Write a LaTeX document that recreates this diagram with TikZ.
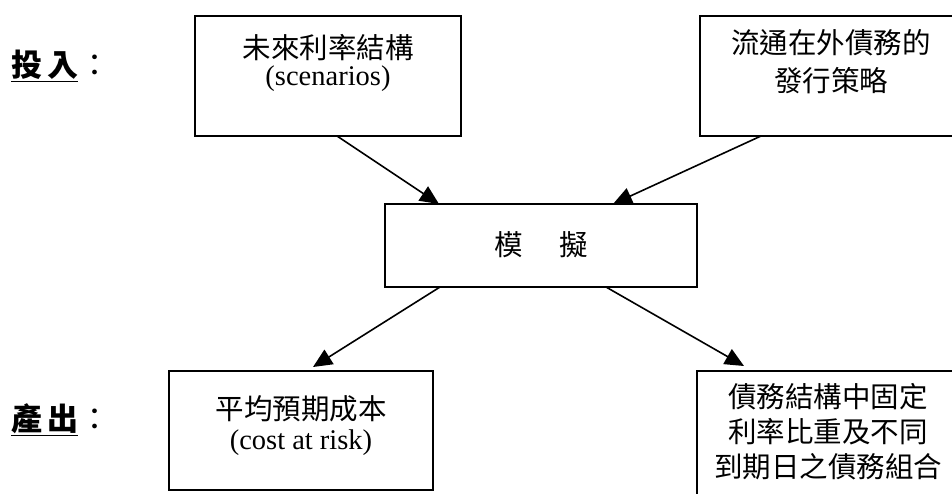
\documentclass[tikz,border=0pt]{standalone}
\usepackage{fontspec}
\setmainfont{Liberation Serif}
\newfontfamily\cjk{Noto Sans CJK TC}
\usetikzlibrary{arrows.meta}
\tikzset{
  box/.style={draw, line width=1.6pt, outer sep=0pt, inner sep=0pt},
  txt/.style={align=center, inner sep=0pt, font=\fontsize{28.5}{36}\selectfont},
  lbl/.style={inner sep=0pt, anchor=west, font=\fontsize{31}{36}\selectfont\cjk},
  arr/.style={line width=1.6pt, -{Triangle[length=19pt,width=17pt]}}
}
\begin{document}
\begin{tikzpicture}[x=1pt,y=1pt]
\useasboundingbox (0,0) rectangle (952,-493);
\clip (0,0) rectangle (952,-493);
% boxes
\node[box, minimum width=266pt, minimum height=120pt] (b1) at (328,-76) {};
\node[box, minimum width=262pt, minimum height=120pt] (b2) at (831,-76) {};
\node[box, minimum width=312pt, minimum height=83pt] (c) at (541,-245.5) {};
\node[box, minimum width=264pt, minimum height=119pt] (b3) at (301,-430.5) {};
\node[box, minimum width=262pt, minimum height=130pt] (b4) at (828,-436) {};
% texts
\node[txt, font=\fontsize{28.5}{27}\selectfont] (t1) at (328,-63) {{\cjk 未來利率結構}\\(scenarios)};
\node[txt, font=\fontsize{28.5}{38}\selectfont] (t2) at (831,-62) {{\cjk 流通在外債務的}\\{\cjk 發行策略}};
\node[txt] (tc) at (541,-245) {{\cjk 模}\hspace{37pt}{\cjk 擬}};
\node[txt, font=\fontsize{28.5}{30}\selectfont] (t3) at (301,-426) {{\cjk 平均預期成本}\\(cost at risk)};
\node[txt, font=\fontsize{28.5}{35}\selectfont] (t4) at (828,-432) {{\cjk 債務結構中固定}\\{\cjk 利率比重及不同}\\{\cjk 到期日之債務組合}};
% labels
\node[lbl] (lin) at (11,-66) {\underline{\bfseries 投\hspace{5pt}入}\hspace{1pt}：};
\node[lbl] (lout) at (11,-420) {\underline{\bfseries 產\hspace{5pt}出}\hspace{1pt}：};
% arrows
\draw[arr] ([xshift=142pt]b1.south west) -- ([xshift=54pt]c.north west);
\draw[arr] ([xshift=61pt]b2.south west) -- ([xshift=228pt]c.north west);
\draw[arr] ([xshift=55pt]c.south west) -- ([xshift=144pt,yshift=4pt]b3.north west);
\draw[arr] ([xshift=221pt]c.south west) -- ([xshift=47pt,yshift=5pt]b4.north west);
\end{tikzpicture}
\end{document}
